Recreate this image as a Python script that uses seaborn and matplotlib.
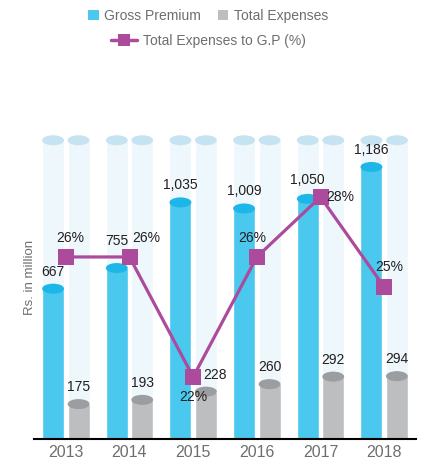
import numpy as np
import pandas as pd
import matplotlib
matplotlib.use("Agg")
import matplotlib.pyplot as plt
import seaborn as sns
from matplotlib.patches import Ellipse, Patch
from matplotlib.lines import Line2D

years = ["2013", "2014", "2015", "2016", "2017", "2018"]
gross_premium = [667, 755, 1035, 1009, 1050, 1186]
total_expenses = [175, 193, 228, 260, 292, 294]
expense_ratio = [26, 26, 22, 26, 28, 25]
series_names = ["Gross Premium", "Total Expenses"]
bg_level = 1300

BLUE = "#4AC8EE"
BLUE_TOP = "#1DB6E8"
GRAY = "#BDBEC0"
GRAY_TOP = "#9C9DA0"
PALE = "#EEF7FB"
PALE_TOP = "#C6E3F2"
PURPLE = "#AC4A9C"
TXT = "#231F20"
TXT_GRAY = "#6D6E71"

df = pd.DataFrame({
    "year": years * 2,
    "series": [series_names[0]] * 6 + [series_names[1]] * 6,
    "value": gross_premium + total_expenses,
})
df_bg = df.copy()
df_bg["value"] = bg_level

sns.set_style("white")
plt.rcParams["font.family"] = ["Liberation Sans", "DejaVu Sans"]

fig = plt.figure(figsize=(4.22, 4.62), dpi=100)
ax = fig.add_axes([34 / 422, 23 / 462, 382 / 422, 314 / 462])

# pale background cylinders
sns.barplot(data=df_bg, x="year", y="value", hue="series", palette=[PALE, PALE],
            width=0.8, gap=0.14, saturation=1, legend=False, ax=ax)
n_bg = len(ax.patches)
sns.barplot(data=df, x="year", y="value", hue="series", palette=[BLUE, GRAY],
            width=0.8, gap=0.14, saturation=1, legend=False, ax=ax)
bars = list(ax.patches)

ax.set_ylim(26, 1365)
ax.set_xlim(-0.5, 5.5)
ell_h = 42.6

# cylinder tops
for i, p in enumerate(bars):
    cx = p.get_x() + p.get_width() / 2
    top = p.get_height()
    if i < n_bg:
        col = PALE_TOP
    else:
        col = BLUE_TOP if (i - n_bg) < 6 else GRAY_TOP
    ax.add_patch(Ellipse((cx, top), p.get_width(), ell_h, facecolor=col,
                         edgecolor="none", zorder=3))

# value labels
data_bars = bars[n_bg:]
blue_dy = [17, 27, 17, 17, 19, 17]
gray_dx = [0, 0, 9, 0, 0, 0]
for i, p in enumerate(data_bars):
    cx = p.get_x() + p.get_width() / 2
    top = p.get_height()
    if i < 6:
        dx, dy = 0, blue_dy[i]
        lab = f"{gross_premium[i]:,}"
    else:
        dx, dy = gray_dx[i - 6], 17
        lab = f"{total_expenses[i - 6]:,}"
    ax.annotate(lab, (cx, top), xytext=(dx, dy), textcoords="offset pixels",
                ha="center", va="center", fontsize=10, color=TXT, zorder=5)

ax.set_xlabel("")
ax.set_ylabel("")
ax.set_yticks([])
for s in ["top", "left", "right"]:
    ax.spines[s].set_visible(False)
ax.spines["bottom"].set_color("black")
ax.spines["bottom"].set_linewidth(1.5)
ax.tick_params(axis="x", which="major", length=0, labelsize=11.5,
               labelcolor=TXT_GRAY, pad=4)
ax.set_xticks(np.arange(-0.5, 6, 1), minor=True)
ax.tick_params(axis="x", which="minor", direction="in", length=5, width=1.5,
               color="black")

# ratio line on secondary axis
ax2 = ax.twinx()
sns.lineplot(x=list(range(6)), y=expense_ratio, ax=ax2, color=PURPLE,
             linewidth=2.3, marker="s", markersize=12, markeredgewidth=0)
ax2.set_ylim(19.93, 30.4)
ax2.set_xlim(-0.5, 5.5)
ax2.set_yticks([])
ax2.set_ylabel("")
for s in ax2.spines.values():
    s.set_visible(False)

pct_off = [(4, 19), (17, 19), (0, -20), (-5, 19), (20, 0), (5, 20)]
for i, v in enumerate(expense_ratio):
    ax2.annotate(f"{v}%", (i, v), xytext=pct_off[i], textcoords="offset pixels",
                 ha="center", va="center", fontsize=10, color=TXT)

fig.text(30 / 422, 1 - 277 / 462, "Rs. in million", rotation=90, ha="center",
         va="center", fontsize=9.5, color=TXT_GRAY)

# legend
h1 = [Patch(facecolor=BLUE, edgecolor="none"), Patch(facecolor=GRAY, edgecolor="none")]
leg1 = fig.legend(h1, series_names, loc="center", bbox_to_anchor=(208 / 422, 1 - 16 / 462),
                  ncol=2, frameon=False, fontsize=10, handlelength=0.75,
                  handleheight=0.75, handletextpad=0.4, columnspacing=1.2,
                  labelcolor=TXT_GRAY)
h2 = [Line2D([0], [0], color=PURPLE, linewidth=2.5, marker="s", markersize=8,
             markeredgewidth=0)]
fig.legend(h2, ["Total Expenses to G.P (%)"], loc="center",
           bbox_to_anchor=(208 / 422, 1 - 41 / 462), frameon=False, fontsize=10,
           handlelength=1.9, handletextpad=0.4, labelcolor=TXT_GRAY)

fig.savefig("out.png", dpi=100)
